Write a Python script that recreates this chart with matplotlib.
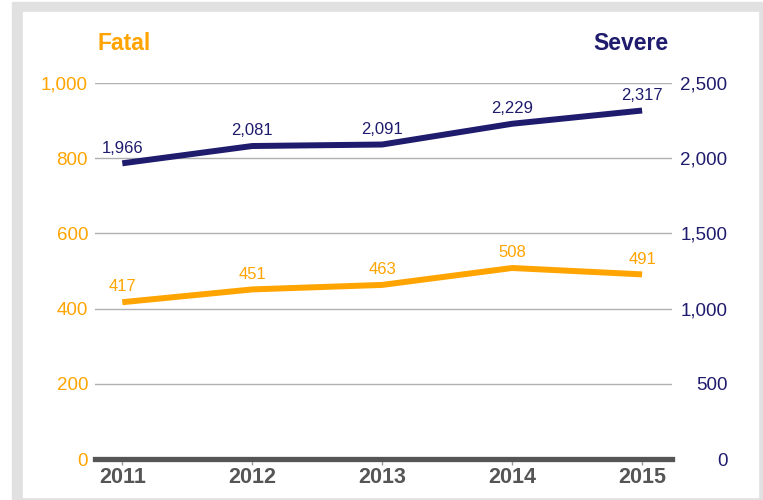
import matplotlib.pyplot as plt
from matplotlib.patches import Rectangle
from matplotlib.ticker import FuncFormatter

years = [2011, 2012, 2013, 2014, 2015]
fatal = [417, 451, 463, 508, 491]
severe = [1966, 2081, 2091, 2229, 2317]

fatal_ticks = [0, 200, 400, 600, 800, 1000]
severe_ticks = [0, 500, 1000, 1500, 2000, 2500]

ORANGE = '#ffa400'
NAVY = '#1f1b6d'
DARK = '#555555'

plt.rcParams['font.family'] = ['Liberation Sans', 'DejaVu Sans']

fig = plt.figure(figsize=(7.63, 5), dpi=100)
W, H = 763, 500

# grey frame around the white panel
fig.patches.append(Rectangle((12 / W, 0), 1 - 12 / W, 1 - 2 / H,
                             transform=fig.transFigure, color='#e1e1e1', zorder=-2))
fig.patches.append(Rectangle((23 / W, 3 / H), (758 - 23) / W, (497 - 12) / H,
                             transform=fig.transFigure, color='white', zorder=-1))

ax = fig.add_axes([95 / W, (500 - 459) / H, (672 - 95) / W, (459 - 83) / H])
ax.set_facecolor('none')
ax2 = ax.twinx()

ax.set_xlim(2010.79, 2015.23)
ax.set_ylim(0, 1000)
ax2.set_ylim(0, 2500)

for y in fatal_ticks[1:]:
    ax.axhline(y, color='#b0b0b0', lw=1, zorder=0)
ax.axhline(0, color=DARK, lw=3.8, zorder=3, clip_on=False)

ax.plot(years, fatal, color=ORANGE, lw=4.3, solid_capstyle='butt', zorder=4)
ax2.plot(years, severe, color=NAVY, lw=4.3, solid_capstyle='butt', zorder=4)

fmt = FuncFormatter(lambda v, p: f'{int(v):,}')
for x, v in zip(years, fatal):
    ax.annotate(fmt(v), (x, v), xytext=(0, 11), textcoords='offset points',
                ha='center', va='center', color=ORANGE, fontsize=12)
for x, v in zip(years, severe):
    ax2.annotate(fmt(v), (x, v), xytext=(0, 11), textcoords='offset points',
                 ha='center', va='center', color=NAVY, fontsize=12)

for a in (ax, ax2):
    for s in a.spines.values():
        s.set_visible(False)

ax.set_yticks(fatal_ticks)
ax.yaxis.set_major_formatter(fmt)
ax.tick_params(axis='y', length=0, pad=5, labelcolor=ORANGE, labelsize=13.5)

ax2.set_yticks(severe_ticks)
ax2.yaxis.set_major_formatter(fmt)
ax2.tick_params(axis='y', length=0, pad=40, labelcolor=NAVY, labelsize=13.5)
for lab in ax2.get_yticklabels():
    lab.set_horizontalalignment('right')

ax.set_xticks(years)
ax.set_xticklabels([str(y) for y in years], fontweight='bold', fontsize=15.5, color=DARK)
ax.tick_params(axis='x', length=4, width=1, color='#999999', pad=2)

fig.text(97 / W, 1 - 43 / H, 'Fatal', color=ORANGE, fontsize=16.5, fontweight='bold',
         ha='left', va='center')
fig.text(668 / W, 1 - 43 / H, 'Severe', color=NAVY, fontsize=16.5, fontweight='bold',
         ha='right', va='center')

fig.savefig('out.png', dpi=100)
